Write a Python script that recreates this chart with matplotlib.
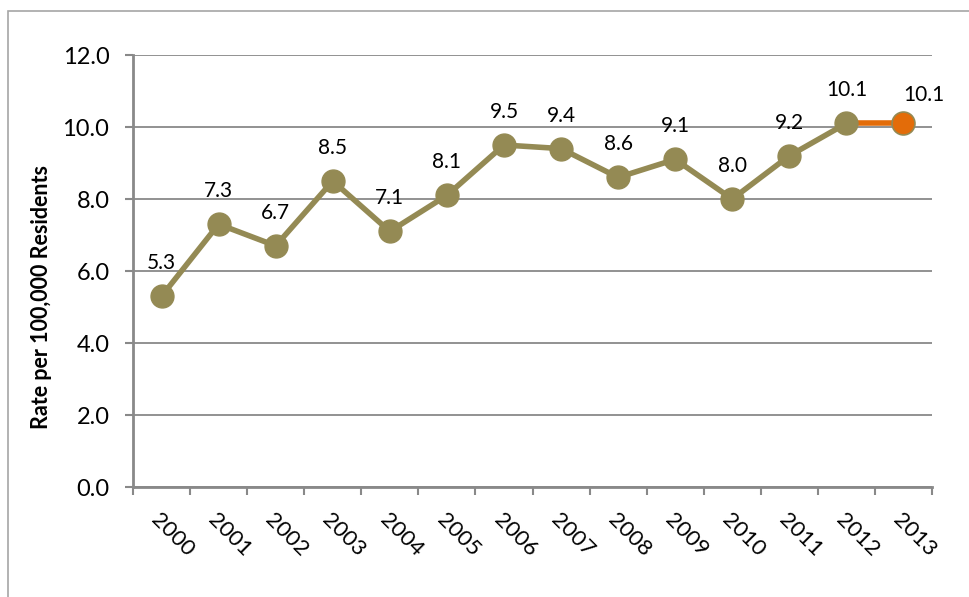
import matplotlib.pyplot as plt
import matplotlib.transforms as mtransforms
from matplotlib.patches import Rectangle

years = ["2000", "2001", "2002", "2003", "2004", "2005", "2006",
         "2007", "2008", "2009", "2010", "2011", "2012", "2013"]
rates = [5.3, 7.3, 6.7, 8.5, 7.1, 8.1, 9.5, 9.4, 8.6, 9.1, 8.0, 9.2, 10.1, 10.1]

olive = "#948A54"
orange = "#E36C09"
grey = "#898989"

plt.rcParams["font.family"] = ["Lato", "DejaVu Sans"]

fig = plt.figure(figsize=(9.69, 5.97), dpi=100)
ax = fig.add_axes([133 / 969, 1 - 487 / 597, (932 - 133) / 969, (487 - 55) / 597])

# рамка вокруг всей диаграммы
fig.patches.append(Rectangle((8 / 969, -0.1), 1.2, 1 - 11 / 597 + 0.1,
                             transform=fig.transFigure, fill=False,
                             edgecolor="#A6A6A6", linewidth=1.2))

x = list(range(len(years)))
ax.plot(x[:-1], rates[:-1], "-o", color=olive, linewidth=4,
        markersize=16.5, zorder=3)
ax.plot(x[-2:], rates[-2:], "-", color=orange, linewidth=4, zorder=2)
ax.plot(x[-1], rates[-1], "o", color=orange, markeredgecolor=olive,
        markeredgewidth=1.2, markersize=16.5, zorder=4)

# подписи значений над точками (последняя смещена вправо)
for xi, yi in zip(x, rates):
    if xi == x[-1]:
        ax.annotate(f"{yi:.1f}", (xi, yi), xytext=(0, 13.5), textcoords="offset points",
                    ha="left", va="bottom", fontsize=15)
    else:
        ax.annotate(f"{yi:.1f}", (xi, yi), xytext=(0, 16.5), textcoords="offset points",
                    ha="center", va="bottom", fontsize=15)

ax.set_xlim(-0.5, 13.5)
ax.set_ylim(0, 12)
ax.set_yticks([0, 2, 4, 6, 8, 10, 12])
ax.set_yticklabels([f"{v:.1f}" for v in [0, 2, 4, 6, 8, 10, 12]], fontsize=17)
ax.yaxis.grid(True, color=grey, linewidth=1.3)
ax.set_axisbelow(True)

ax.set_xticks([i - 0.5 for i in range(15)])
ax.set_xticklabels([])
ax.set_xticks(x, minor=True)
ax.set_xticklabels(years, minor=True, rotation=-45, ha="left", va="top",
                   rotation_mode="anchor", fontsize=16)
shift = mtransforms.ScaledTranslation(4 / 72, 0, fig.dpi_scale_trans)
for lbl in ax.get_xticklabels(minor=True):
    lbl.set_transform(lbl.get_transform() + shift)
ax.tick_params(axis="x", which="minor", length=0, pad=16)
ax.tick_params(axis="x", which="major", length=6, width=1.5, color=grey)
ax.tick_params(axis="y", length=6, width=1.5, color=grey, pad=11)

for s in ["top", "right"]:
    ax.spines[s].set_visible(False)
for s in ["left", "bottom"]:
    ax.spines[s].set_color(grey)
    ax.spines[s].set_linewidth(2)

ax.set_ylabel("Rate per 100,000 Residents", fontsize=15.5, fontweight="bold")
ax.yaxis.set_label_coords(-0.102, 0.44)

fig.savefig("out.png", dpi=100)
